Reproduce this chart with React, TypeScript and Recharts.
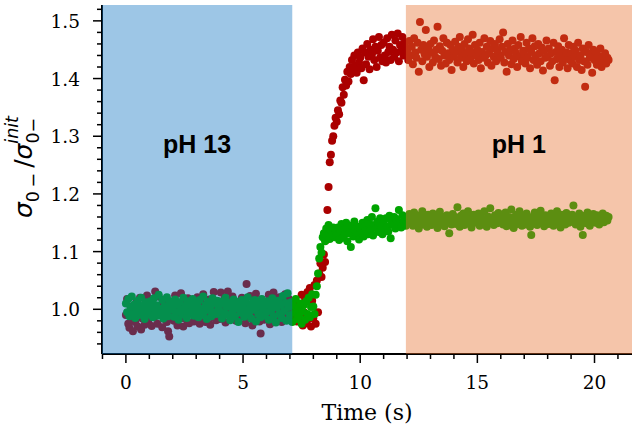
import { Label, ReferenceArea, Scatter, ScatterChart, XAxis, YAxis } from 'recharts'

// sampling times (s)
const TIME = [
  0, 0.05, 0.1, 0.15, 0.2, 0.25, 0.3, 0.35, 0.4, 0.45, 0.5, 0.55, 0.6, 0.65, 0.7, 0.75, 0.8, 0.85, 0.9, 0.95,
  1, 1.05, 1.1, 1.15, 1.2, 1.25, 1.3, 1.35, 1.4, 1.45, 1.5, 1.55, 1.6, 1.65, 1.7, 1.75, 1.8, 1.85, 1.9, 1.95,
  2, 2.05, 2.1, 2.15, 2.2, 2.25, 2.3, 2.35, 2.4, 2.45, 2.5, 2.55, 2.6, 2.65, 2.7, 2.75, 2.8, 2.85, 2.9, 2.95,
  3, 3.05, 3.1, 3.15, 3.2, 3.25, 3.3, 3.35, 3.4, 3.45, 3.5, 3.55, 3.6, 3.65, 3.7, 3.75, 3.8, 3.85, 3.9, 3.95,
  4, 4.05, 4.1, 4.15, 4.2, 4.25, 4.3, 4.35, 4.4, 4.45, 4.5, 4.55, 4.6, 4.65, 4.7, 4.75, 4.8, 4.85, 4.9, 4.95,
  5, 5.05, 5.1, 5.15, 5.2, 5.25, 5.3, 5.35, 5.4, 5.45, 5.5, 5.55, 5.6, 5.65, 5.7, 5.75, 5.8, 5.85, 5.9, 5.95,
  6, 6.05, 6.1, 6.15, 6.2, 6.25, 6.3, 6.35, 6.4, 6.45, 6.5, 6.55, 6.6, 6.65, 6.7, 6.75, 6.8, 6.85, 6.9, 6.95,
  7, 7.05, 7.1, 7.15, 7.2, 7.25, 7.3, 7.35, 7.4, 7.45, 7.5, 7.55, 7.6, 7.65, 7.7, 7.75, 7.8, 7.85, 7.9, 7.95,
  8, 8.05, 8.1, 8.15, 8.2, 8.25, 8.3, 8.35, 8.4, 8.45, 8.5, 8.55, 8.6, 8.65, 8.7, 8.75, 8.8, 8.85, 8.9, 8.95,
  9, 9.05, 9.1, 9.15, 9.2, 9.25, 9.3, 9.35, 9.4, 9.45, 9.5, 9.55, 9.6, 9.65, 9.7, 9.75, 9.8, 9.85, 9.9, 9.95,
  10, 10.05, 10.1, 10.15, 10.2, 10.25, 10.3, 10.35, 10.4, 10.45, 10.5, 10.55, 10.6, 10.65, 10.7, 10.75, 10.8, 10.85, 10.9, 10.95,
  11, 11.05, 11.1, 11.15, 11.2, 11.25, 11.3, 11.35, 11.4, 11.45, 11.5, 11.55, 11.6, 11.65, 11.7, 11.75, 11.8, 11.85, 11.9, 11.95,
  12, 12.05, 12.1, 12.15, 12.2, 12.25, 12.3, 12.35, 12.4, 12.45, 12.5, 12.55, 12.6, 12.65, 12.7, 12.75, 12.8, 12.85, 12.9, 12.95,
  13, 13.05, 13.1, 13.15, 13.2, 13.25, 13.3, 13.35, 13.4, 13.45, 13.5, 13.55, 13.6, 13.65, 13.7, 13.75, 13.8, 13.85, 13.9, 13.95,
  14, 14.05, 14.1, 14.15, 14.2, 14.25, 14.3, 14.35, 14.4, 14.45, 14.5, 14.55, 14.6, 14.65, 14.7, 14.75, 14.8, 14.85, 14.9, 14.95,
  15, 15.05, 15.1, 15.15, 15.2, 15.25, 15.3, 15.35, 15.4, 15.45, 15.5, 15.55, 15.6, 15.65, 15.7, 15.75, 15.8, 15.85, 15.9, 15.95,
  16, 16.05, 16.1, 16.15, 16.2, 16.25, 16.3, 16.35, 16.4, 16.45, 16.5, 16.55, 16.6, 16.65, 16.7, 16.75, 16.8, 16.85, 16.9, 16.95,
  17, 17.05, 17.1, 17.15, 17.2, 17.25, 17.3, 17.35, 17.4, 17.45, 17.5, 17.55, 17.6, 17.65, 17.7, 17.75, 17.8, 17.85, 17.9, 17.95,
  18, 18.05, 18.1, 18.15, 18.2, 18.25, 18.3, 18.35, 18.4, 18.45, 18.5, 18.55, 18.6, 18.65, 18.7, 18.75, 18.8, 18.85, 18.9, 18.95,
  19, 19.05, 19.1, 19.15, 19.2, 19.25, 19.3, 19.35, 19.4, 19.45, 19.5, 19.55, 19.6, 19.65, 19.7, 19.75, 19.8, 19.85, 19.9, 19.95,
  20, 20.05, 20.1, 20.15, 20.2, 20.25, 20.3, 20.35, 20.4, 20.45, 20.5, 20.55, 20.6,
]

// red series (rises to ~1.44)
const SIGMA_RED = [
  0.990, 1.018, 0.975, 0.968, 1.005, 0.982, 0.962, 0.995, 0.978, 1.012, 0.970, 0.988, 1.020, 0.965, 0.984, 1.002, 0.973, 0.996, 1.024, 0.980,
  0.992, 1.015, 0.971, 1.008, 0.986, 1.031, 0.998, 0.975, 1.022, 0.990, 1.006, 0.969, 1.012, 0.983, 0.995, 0.978, 0.962, 0.953, 1.004, 0.988,
  1.010, 0.980, 1.024, 0.996, 0.972, 1.005, 0.991, 1.028, 0.985, 0.970, 1.013, 0.998, 0.982, 1.019, 0.976, 1.002, 0.993, 1.016, 0.979, 1.007,
  0.988, 1.021, 0.996, 0.975, 1.011, 0.984, 1.026, 0.999, 0.978, 1.009, 0.990, 1.017, 0.973, 1.003, 0.986, 1.030, 0.995, 0.981, 1.014, 1.000,
  0.983, 1.029, 1.006, 0.989, 1.018, 0.977, 1.001, 1.031, 0.992, 1.010, 0.985, 1.022, 1.008, 0.996, 0.980, 1.012, 0.994, 1.004, 0.987, 1.020,
  0.991, 1.008, 0.976, 1.044, 0.999, 0.984, 1.023, 1.002, 0.972, 1.011, 0.993, 1.027, 0.986, 1.005, 0.979, 0.958, 0.997, 1.009, 0.982, 1.013,
  1.003, 0.988, 1.025, 0.974, 1.010, 0.995, 1.029, 0.983, 0.995, 1.007, 0.990, 1.021, 1.000, 0.978, 1.014, 0.992, 1.026, 1.006, 0.985, 1.018,
  0.996, 1.012, 0.981, 1.004, 0.993, 1.010, 0.979, 0.990, 1.002, 0.984, 1.025, 0.972, 0.995, 1.018, 0.976, 1.030, 0.983, 1.037, 0.970, 1.015,
  0.985, 1.042, 0.975, 1.050, 0.995, 1.062, 1.080, 1.056, 1.072, 1.095, 1.082, 1.120, 1.172, 1.212, 1.255, 1.268, 1.292, 1.300, 1.318, 1.332,
  1.325, 1.345, 1.338, 1.362, 1.358, 1.385, 1.372, 1.398, 1.388, 1.412, 1.395, 1.420, 1.408, 1.432, 1.415, 1.440, 1.422, 1.410, 1.445, 1.428,
  1.436, 1.418, 1.452, 1.397, 1.445, 1.425, 1.460, 1.438, 1.416, 1.450, 1.442, 1.468, 1.432, 1.455, 1.420, 1.448, 1.472, 1.436, 1.458, 1.430,
  1.462, 1.440, 1.428, 1.470, 1.446, 1.455, 1.432, 1.476, 1.450, 1.438, 1.466, 1.445, 1.478, 1.430, 1.458, 1.448, 1.472, 1.440, 1.462, 1.452,
  1.448, 1.432, 1.465, 1.440, 1.455, 1.425, 1.470, 1.445, 1.436, 1.462, 1.412, 1.498, 1.450, 1.430, 1.458, 1.442, 1.484, 1.438, 1.452, 1.420,
  1.460, 1.445, 1.428, 1.466, 1.438, 1.450, 1.490, 1.434, 1.456, 1.422, 1.448, 1.470, 1.440, 1.426, 1.462, 1.444, 1.432, 1.458, 1.415, 1.450,
  1.438, 1.464, 1.446, 1.428, 1.455, 1.472, 1.436, 1.448, 1.420, 1.460, 1.442, 1.430, 1.468, 1.452, 1.434, 1.445, 1.476, 1.426, 1.458, 1.440,
  1.450, 1.432, 1.462, 1.418, 1.446, 1.436, 1.470, 1.440, 1.455, 1.428, 1.444, 1.465, 1.422, 1.452, 1.438, 1.460, 1.430, 1.448, 1.442, 1.468,
  1.436, 1.455, 1.480, 1.428, 1.446, 1.412, 1.460, 1.440, 1.450, 1.425, 1.466, 1.434, 1.452, 1.444, 1.420, 1.458, 1.438, 1.472, 1.430, 1.448,
  1.442, 1.426, 1.462, 1.436, 1.452, 1.418, 1.446, 1.470, 1.432, 1.456, 1.440, 1.424, 1.460, 1.444, 1.430, 1.454, 1.414, 1.448, 1.436, 1.466,
  1.438, 1.452, 1.422, 1.444, 1.430, 1.462, 1.397, 1.446, 1.434, 1.456, 1.420, 1.440, 1.450, 1.428, 1.470, 1.436, 1.445, 1.418, 1.458, 1.432,
  1.444, 1.426, 1.455, 1.438, 1.448, 1.420, 1.462, 1.432, 1.440, 1.415, 1.452, 1.430, 1.386, 1.446, 1.424, 1.458, 1.436, 1.442, 1.410, 1.450,
  1.432, 1.446, 1.424, 1.440, 1.428, 1.452, 1.420, 1.438, 1.430, 1.444, 1.426, 1.436, 1.432,
]

// green series (rises to ~1.155)
const SIGMA_GREEN = [
  1.010, 0.995, 1.018, 0.988, 1.004, 1.022, 0.992, 1.008, 0.985, 1.000, 1.015, 0.990, 1.006, 1.020, 0.994, 1.002, 0.983, 1.012, 0.997, 1.009,
  0.991, 1.014, 1.003, 0.986, 1.019, 0.998, 1.007, 0.989, 1.025, 1.001, 0.993, 1.016, 0.984, 1.005, 0.996, 1.021, 0.988, 1.010, 0.999, 1.013,
  1.004, 0.987, 1.017, 0.995, 1.008, 0.982, 1.012, 1.000, 0.991, 1.020, 0.997, 1.006, 0.985, 1.014, 0.993, 1.009, 0.998, 1.018, 0.989, 1.003,
  0.994, 1.011, 0.986, 1.016, 1.001, 0.990, 1.022, 0.996, 1.007, 0.983, 1.013, 0.999, 1.005, 0.988, 1.019, 0.995, 1.010, 0.992, 1.015, 1.002,
  0.997, 1.009, 0.984, 1.014, 0.993, 1.020, 1.004, 0.990, 1.011, 0.981, 1.006, 0.996, 1.017, 0.988, 1.002, 1.012, 0.978, 1.008, 0.994, 1.016,
  1.003, 0.987, 1.013, 0.998, 1.021, 0.991, 1.007, 0.984, 1.010, 0.999, 1.016, 0.979, 1.005, 0.992, 1.012, 0.986, 1.018, 1.001, 0.989, 1.008,
  0.995, 1.014, 0.982, 1.006, 0.998, 1.019, 0.988, 1.010, 0.977, 1.003, 1.015, 0.992, 1.008, 0.985, 1.023, 0.997, 1.011, 0.980, 1.028, 1.004,
  0.990, 1.012, 0.978, 1.006, 0.994, 1.018, 0.983, 1.000, 0.988, 1.010, 0.975, 0.996, 1.008, 0.982, 1.014, 0.992, 1.020, 0.986, 1.004, 1.026,
  1.005, 0.992, 1.025, 1.040, 1.062, 1.088, 1.108, 1.098, 1.125, 1.132, 1.118, 1.140, 1.128, 1.146, 1.122, 1.136, 1.130, 1.142, 1.125, 1.138,
  1.128, 1.142, 1.120, 1.135, 1.148, 1.124, 1.138, 1.130, 1.150, 1.118, 1.140, 1.132, 1.108, 1.145, 1.126, 1.152, 1.136, 1.128, 1.143, 1.121,
  1.140, 1.132, 1.150, 1.126, 1.144, 1.136, 1.155, 1.130, 1.148, 1.138, 1.160, 1.128, 1.146, 1.175, 1.140, 1.152, 1.134, 1.158, 1.142, 1.130,
  1.150, 1.138, 1.158, 1.144, 1.135, 1.162, 1.123, 1.152, 1.146, 1.160, 1.140, 1.156, 1.148, 1.172, 1.150, 1.142, 1.163, 1.152, 1.158, 1.145,
  1.160, 1.150, 1.165, 1.152, 1.158, 1.145, 1.168, 1.155, 1.148, 1.162, 1.140, 1.158, 1.153, 1.170, 1.147, 1.160, 1.155, 1.143, 1.164, 1.152,
  1.158, 1.146, 1.166, 1.154, 1.150, 1.162, 1.141, 1.157, 1.169, 1.152, 1.148, 1.160, 1.144, 1.155, 1.163, 1.150, 1.132, 1.158, 1.147, 1.165,
  1.154, 1.160, 1.148, 1.177, 1.156, 1.143, 1.162, 1.151, 1.166, 1.146, 1.158, 1.153, 1.170, 1.149, 1.160, 1.142, 1.157, 1.164, 1.150, 1.158,
  1.152, 1.166, 1.145, 1.159, 1.155, 1.148, 1.170, 1.156, 1.143, 1.161, 1.153, 1.175, 1.150, 1.158, 1.146, 1.163, 1.155, 1.149, 1.167, 1.157,
  1.151, 1.162, 1.147, 1.158, 1.168, 1.144, 1.156, 1.160, 1.150, 1.173, 1.153, 1.141, 1.159, 1.164, 1.148, 1.157, 1.170, 1.152, 1.145, 1.161,
  1.155, 1.147, 1.166, 1.153, 1.159, 1.143, 1.129, 1.160, 1.150, 1.168, 1.156, 1.146, 1.162, 1.152, 1.171, 1.149, 1.158, 1.144, 1.163, 1.154,
  1.160, 1.148, 1.157, 1.166, 1.151, 1.145, 1.162, 1.155, 1.170, 1.149, 1.158, 1.142, 1.164, 1.153, 1.159, 1.147, 1.167, 1.156, 1.150, 1.161,
  1.152, 1.164, 1.180, 1.155, 1.147, 1.160, 1.150, 1.166, 1.143, 1.158, 1.129, 1.154, 1.162, 1.149, 1.168, 1.156, 1.145, 1.160, 1.152, 1.165,
  1.158, 1.150, 1.163, 1.155, 1.147, 1.160, 1.153, 1.166, 1.151, 1.158, 1.162, 1.154, 1.160,
]

const X_TICKS = [-1, 0, 1, 2, 3, 4, 5, 6, 7, 8, 9, 10, 11, 12, 13, 14, 15, 16, 17, 18, 19, 20, 21]
const X_LABELS = [0, 5, 10, 15, 20]
const Y_TICKS = [
  0.94, 0.96, 0.98, 1.0, 1.02, 1.04, 1.06, 1.08, 1.1, 1.12, 1.14, 1.16, 1.18, 1.2, 1.22,
  1.24, 1.26, 1.28, 1.3, 1.32, 1.34, 1.36, 1.38, 1.4, 1.42, 1.44, 1.46, 1.48, 1.5, 1.52,
]
const Y_LABELS = [1.0, 1.1, 1.2, 1.3, 1.4, 1.5]

const PHASE_NAMES = ['pH 13', 'pH 1']
const PHASE_START = [-1.02, 11.95]
const PHASE_END = [7.1, 21.6]

const X_DOMAIN = [-1.02, 21.6]
const Y_DOMAIN = [0.9225, 1.5275]

const PHASE_FILLS = ['rgb(10,112,192)', 'rgb(230,110,42)']
const RED = '#aa0000'
const GREEN = '#00a400'
const SERIF = "'DejaVu Serif', serif"

const redData = TIME.map((t, i) => ({ x: t, y: SIGMA_RED[i] }))
const greenData = TIME.map((t, i) => ({ x: t, y: SIGMA_GREEN[i] }))

const near = (list: number[], v: number) => list.some((l) => Math.abs(l - v) < 1e-6)

function XTick({ x, y, payload }: any) {
  const major = near(X_LABELS, payload.value)
  return (
    <g>
      <line x1={x} x2={x} y1={y} y2={y + (major ? 9 : 5)} stroke="#000" strokeWidth={1.5} />
      {major && (
        <text x={x} y={y + 35} textAnchor="middle" fontFamily={SERIF} fontSize={18.5} fill="#000">
          {payload.value}
        </text>
      )}
    </g>
  )
}

function YTick({ x, y, payload }: any) {
  const major = near(Y_LABELS, payload.value)
  return (
    <g>
      <line x1={x} x2={x - (major ? 9 : 5)} y1={y} y2={y} stroke="#000" strokeWidth={1.5} />
      {major && (
        <text x={x - 22} y={y + 7} textAnchor="end" fontFamily={SERIF} fontSize={18.5} fill="#000">
          {Number(payload.value).toFixed(1)}
        </text>
      )}
    </g>
  )
}

function YLabel() {
  return (
    <text
      x={32}
      y={218}
      transform="rotate(-90 32 218)"
      fontFamily="'DejaVu Sans', sans-serif"
      fontSize={25}
      fill="#000"
    >
      <tspan fontStyle="italic">σ</tspan>
      <tspan fontSize={17.5} dy={7}>0{'\u2009'}−</tspan>
      <tspan dy={-7}>{'\u2009'}/</tspan>
      <tspan fontStyle="italic">σ</tspan>
      <tspan fontSize={17.5} dy={7}>0−</tspan>
      <tspan fontSize={17.5} fontStyle="italic" dx={-26} dy={-21}>init</tspan>
    </text>
  )
}

const dot = (color: string) => (p: any) => <circle cx={p.cx} cy={p.cy} r={4} fill={color} />

export default function App() {
  return (
    <div style={{ position: 'absolute', left: 0, top: 0, background: '#fff' }}>
      <ScatterChart width={632} height={432} margin={{ top: 5, right: 0, bottom: 0, left: 0 }}>
        <XAxis
          dataKey="x"
          type="number"
          domain={X_DOMAIN}
          allowDataOverflow
          ticks={X_TICKS}
          interval={0}
          tickSize={0}
          tickMargin={0}
          tickLine={false}
          tick={<XTick />}
          height={78}
          axisLine={{ stroke: '#000', strokeWidth: 2 }}
        >
          <Label
            value="Time (s)"
            position="insideBottom"
            offset={12}
            style={{ fontFamily: SERIF, fontSize: 22, fill: '#000' }}
          />
        </XAxis>
        <XAxis
          xAxisId="top"
          orientation="top"
          type="number"
          domain={X_DOMAIN}
          height={0}
          tick={false}
          tickLine={false}
          axisLine={{ stroke: '#000', strokeWidth: 2 }}
        />
        <YAxis
          dataKey="y"
          type="number"
          domain={Y_DOMAIN}
          allowDataOverflow
          ticks={Y_TICKS}
          interval={0}
          tickSize={0}
          tickMargin={0}
          tickLine={false}
          tick={<YTick />}
          width={102}
          axisLine={{ stroke: '#000', strokeWidth: 2 }}
        >
          <Label content={() => <YLabel />} />
        </YAxis>
        <Scatter data={redData} shape={dot(RED)} isAnimationActive={false} />
        <Scatter data={greenData} shape={dot(GREEN)} isAnimationActive={false} />
        {PHASE_NAMES.map((name, i) => (
          <ReferenceArea
            key={name}
            x1={PHASE_START[i]}
            x2={PHASE_END[i]}
            y1={Y_DOMAIN[0]}
            y2={Y_DOMAIN[1]}
            fill={PHASE_FILLS[i]}
            fillOpacity={0.4}
            stroke="none"
            zIndex={650}
            ifOverflow="hidden"
            label={{
              value: name,
              position: 'insideTop',
              offset: 130,
              style: { fontFamily: "'Liberation Sans', Arial, sans-serif", fontWeight: 700, fontSize: 25, fill: '#000' },
            }}
          />
        ))}
      </ScatterChart>
    </div>
  )
}
